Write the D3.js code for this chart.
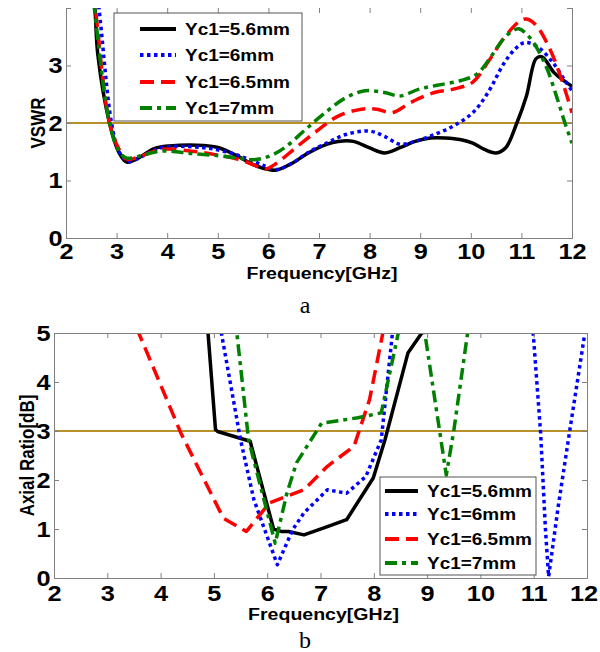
<!DOCTYPE html>
<html>
<head>
<meta charset="utf-8">
<script src="https://cdn.jsdelivr.net/npm/d3@7"></script>
<style>
  body { margin: 0; background: #fff; }
  svg text { font-family: "Liberation Sans", Arial, sans-serif; font-weight: bold; fill: #000; }
  svg text.cap { font-family: "Liberation Serif", "Times New Roman", serif; font-weight: normal; }
</style>
</head>
<body>
<svg id="chart" width="600" height="652"></svg>
<script>
const freqTicks = [2, 3, 4, 5, 6, 7, 8, 9, 10, 11, 12]
const vswrTicks = [0, 1, 2, 3]
const arTicks = [0, 1, 2, 3, 4, 5]
const seriesNames = ['Yc1=5.6mm', 'Yc1=6mm', 'Yc1=6.5mm', 'Yc1=7mm']

// (a) VSWR
const vswr56 = [[2.45, 5.0], [2.57, 4.0], [2.63, 3.18], [2.86, 2.0], [3.05, 1.48], [3.2, 1.32], [3.43, 1.39], [3.73, 1.55], [4.04, 1.6], [4.72, 1.61], [5.02, 1.57], [5.4, 1.42], [5.71, 1.27], [6.01, 1.19], [6.16, 1.18], [6.47, 1.3], [6.77, 1.47], [7.15, 1.63], [7.38, 1.68], [7.68, 1.68], [7.99, 1.57], [8.29, 1.48], [8.6, 1.57], [8.9, 1.68], [9.2, 1.74], [9.5, 1.74], [9.81, 1.71], [10.04, 1.65], [10.27, 1.54], [10.5, 1.48], [10.69, 1.57], [10.91, 2.0], [11.1, 2.47], [11.29, 3.12], [11.41, 3.15], [11.64, 2.88], [11.83, 2.74], [12, 2.64]]
const vswr60 = [[2.5, 5.0], [2.65, 4.0], [2.9, 2.0], [3.05, 1.5], [3.24, 1.33], [3.5, 1.42], [3.88, 1.57], [4.72, 1.57], [5.25, 1.48], [5.63, 1.36], [5.94, 1.25], [6.16, 1.19], [6.47, 1.3], [6.77, 1.48], [7.15, 1.65], [7.53, 1.8], [7.99, 1.86], [8.29, 1.77], [8.6, 1.63], [8.9, 1.68], [9.28, 1.8], [9.66, 1.95], [10.04, 2.18], [10.34, 2.53], [10.65, 3.03], [10.88, 3.29], [11.07, 3.4], [11.33, 3.32], [11.64, 3.03], [11.86, 2.74], [12, 2.56]]
const vswr65 = [[2.45, 5.0], [2.58, 4.0], [2.86, 2.0], [3.05, 1.54], [3.2, 1.37], [3.47, 1.42], [3.88, 1.54], [4.49, 1.51], [4.95, 1.45], [5.4, 1.37], [5.71, 1.27], [5.94, 1.2], [6.16, 1.3], [6.54, 1.57], [7.0, 1.89], [7.38, 2.12], [7.84, 2.24], [8.14, 2.24], [8.44, 2.18], [8.82, 2.36], [9.28, 2.53], [9.66, 2.59], [10.04, 2.71], [10.34, 3.06], [10.65, 3.47], [10.95, 3.76], [11.1, 3.81], [11.29, 3.7], [11.56, 3.29], [11.79, 2.77], [12, 2.18]]
const vswr70 = [[2.43, 5.0], [2.56, 4.0], [2.86, 2.0], [3.05, 1.5], [3.2, 1.39], [3.43, 1.42], [3.88, 1.51], [4.49, 1.47], [5.02, 1.43], [5.4, 1.39], [5.71, 1.36], [6.01, 1.42], [6.32, 1.57], [6.7, 1.86], [7.08, 2.15], [7.53, 2.44], [7.91, 2.56], [8.29, 2.53], [8.6, 2.47], [8.98, 2.59], [9.36, 2.66], [9.81, 2.74], [10.12, 2.85], [10.42, 3.18], [10.65, 3.47], [10.84, 3.61], [10.95, 3.64], [11.18, 3.47], [11.48, 3.0], [11.71, 2.42], [11.86, 2.0], [12, 1.65]]

// (b) Axial ratio
const ar56 = [[4.87, 5.3], [4.89, 5.0], [5.03, 3.03], [5.07, 2.99], [5.68, 2.79], [6.12, 1.0], [6.26, 0.95], [6.4, 0.95], [6.69, 0.88], [7.13, 1.05], [7.49, 1.19], [7.99, 2.04], [8.21, 2.82], [8.64, 4.59], [8.9, 5.0]]
const ar60 = [[5.12, 5.3], [5.14, 5.0], [5.5, 2.82], [5.75, 1.6], [6.19, 0.27], [6.48, 0.99], [6.69, 1.33], [7.13, 1.8], [7.49, 1.73], [7.85, 2.07], [8.14, 2.82], [8.35, 5.0], [8.4, 5.4], null,
  [10.97, 5.3], [10.99, 5.0], [11.13, 2.96], [11.22, 1.0], [11.28, 0.03], [11.46, 1.46], [11.67, 2.96], [11.96, 5.0], [12, 5.3]]
const ar65 = [[3.55, 5.1], [3.59, 5.0], [4.38, 2.96], [5.1, 1.39], [5.18, 1.22], [5.61, 0.95], [6.04, 1.53], [6.69, 1.8], [7.13, 2.28], [7.63, 2.69], [7.92, 3.64], [8.17, 5.0], [8.2, 5.3]]
const ar70 = [[5.42, 5.3], [5.43, 5.0], [5.5, 4.32], [5.65, 2.82], [6.15, 0.71], [6.37, 1.73], [6.55, 2.35], [7.02, 3.16], [7.27, 3.2], [7.7, 3.27], [8.14, 3.37], [8.46, 5.0], [8.6, 5.7], null,
  [8.9, 5.4], [8.95, 5.05], [9.36, 2.1], [9.5, 3.0], [9.76, 5.0], [9.8, 5.3]]

const styles = [
	{ color: '#000000', dash: null, width: 3.5 },
	{ color: '#0000ff', dash: '3.5,3.5', width: 3.5 },
	{ color: '#ff0000', dash: '14,7', width: 3.5 },
	{ color: '#008000', dash: '12,5,4,5', width: 3.5 },
]

const sx = 1.15 // text in the figure is a bit wider than Arial
const svg = d3.select('#chart')

function drawPanel(opt) {
	const x = d3.scaleLinear().domain([2, 12]).range([opt.left, opt.right])
	const y = d3.scaleLinear().domain(opt.yDomain).range([opt.bottom, opt.top])
	const g = svg.append('g')
	const clipId = 'clip' + opt.id

	svg.append('clipPath').attr('id', clipId)
		.append('rect')
		.attr('x', opt.left).attr('y', opt.top)
		.attr('width', opt.right - opt.left).attr('height', opt.bottom - opt.top)

	// reference line
	g.append('line')
		.attr('x1', opt.left).attr('x2', opt.right)
		.attr('y1', y(opt.refLine)).attr('y2', y(opt.refLine))
		.attr('stroke', '#b8912a').attr('stroke-width', 2)

	const line = d3.line()
		.defined(d => d != null)
		.x(d => x(d[0])).y(d => y(d[1]))
		.curve(opt.smooth ? d3.curveCatmullRom.alpha(0.5) : d3.curveLinear)

	opt.series.forEach((s, i) => {
		g.append('path')
			.attr('d', line(s))
			.attr('clip-path', `url(#${clipId})`)
			.attr('fill', 'none')
			.attr('stroke', styles[i].color)
			.attr('stroke-width', styles[i].width)
			.attr('stroke-dasharray', styles[i].dash)
			.attr('stroke-linejoin', 'round')
	})

	// axes, ticks pointing inwards on all sides
	const ax = g.append('g').attr('transform', `translate(0,${opt.bottom})`)
		.call(d3.axisBottom(x).tickValues(freqTicks).tickFormat(d3.format('d')).tickSize(-5).tickPadding(opt.xPad))
	const ay = g.append('g').attr('transform', `translate(${opt.left},0)`)
		.call(d3.axisLeft(y).tickValues(opt.yTicks).tickFormat(d3.format('d')).tickSize(-5).tickPadding(3))
	const at = g.append('g').attr('transform', `translate(0,${opt.top})`)
		.call(d3.axisTop(x).tickValues(freqTicks).tickSize(-5).tickFormat(''))
	const ar = g.append('g').attr('transform', `translate(${opt.right},0)`)
		.call(d3.axisRight(y).tickValues(opt.yTicks).tickSize(-5).tickFormat(''))
	if (!opt.topBorder) at.select('.domain').remove()

	g.selectAll('.domain').attr('stroke', '#808080')
	g.selectAll('.tick line').attr('stroke', '#808080')
	ax.selectAll('text').attr('font-size', 22).attr('transform', `scale(${sx},1)`)
	ax.selectAll('text').filter(d => d === 12).attr('dx', opt.lastDx)
	ay.selectAll('text').attr('font-size', 22).attr('transform', `scale(${sx},1)`)
	g.selectAll('.tick text').attr('font-family', '"Liberation Sans", Arial, sans-serif').attr('font-weight', 'bold').attr('fill', '#000')

	// axis titles
	g.append('text')
		.attr('transform', `translate(${(opt.left + opt.right) / 2 + 3},${opt.xTitleY}) scale(${sx},1)`)
		.attr('text-anchor', 'middle').attr('font-size', 17)
		.text('Frequency[GHz]')
	g.append('text')
		.attr('transform', `translate(${opt.yTitleX},${(opt.top + opt.bottom) / 2}) rotate(-90) scale(1,${sx})`)
		.attr('text-anchor', 'middle').attr('font-size', 17)
		.text(opt.yTitle)

	// legend
	const lg = g.append('g')
	lg.append('rect')
		.attr('x', opt.legend.x).attr('y', opt.legend.y)
		.attr('width', opt.legend.w).attr('height', opt.legend.h)
		.attr('fill', '#fff').attr('stroke', '#555').attr('stroke-width', 1)
	seriesNames.forEach((name, i) => {
		const yy = opt.legend.rows[i]
		lg.append('line')
			.attr('x1', opt.legend.s0).attr('x2', opt.legend.s1)
			.attr('y1', yy).attr('y2', yy)
			.attr('stroke', styles[i].color)
			.attr('stroke-width', styles[i].width + 0.5)
			.attr('stroke-dasharray', styles[i].dash)
		lg.append('text')
			.attr('transform', `translate(${opt.legend.tx},${yy + 6}) scale(${sx},1)`)
			.attr('font-size', 16.5)
			.text(name)
	})

	svg.append('text').attr('class', 'cap')
		.attr('x', opt.capX).attr('y', opt.capY)
		.attr('text-anchor', 'middle').attr('font-size', 24)
		.text(opt.caption)
}

drawPanel({
	id: 'a', left: 66, right: 572, top: 8, bottom: 238,
	yDomain: [0, 4], yTicks: vswrTicks, refLine: 2, smooth: true,
	series: [vswr56, vswr60, vswr65, vswr70],
	topBorder: false, xPad: 5, lastDx: 0, xTitleY: 279, yTitle: 'VSWR', yTitleX: 45,
	legend: { x: 114, y: 13, w: 188, h: 108, rows: [29, 55, 82, 108], s0: 140, s1: 176, tx: 185 },
	caption: 'a', capX: 305, capY: 313,
})

drawPanel({
	id: 'b', left: 54, right: 587, top: 333, bottom: 578,
	yDomain: [0, 5], yTicks: arTicks, refLine: 3, smooth: false,
	series: [ar56, ar60, ar65, ar70],
	topBorder: true, xPad: 7, lastDx: -3, xTitleY: 620, yTitle: 'Axial Ratio[dB]', yTitleX: 34,
	legend: { x: 380, y: 477, w: 156, h: 98, rows: [491, 514, 539, 563], s0: 385, s1: 418, tx: 427 },
	caption: 'b', capX: 305, capY: 648,
})
</script>
</body>
</html>
